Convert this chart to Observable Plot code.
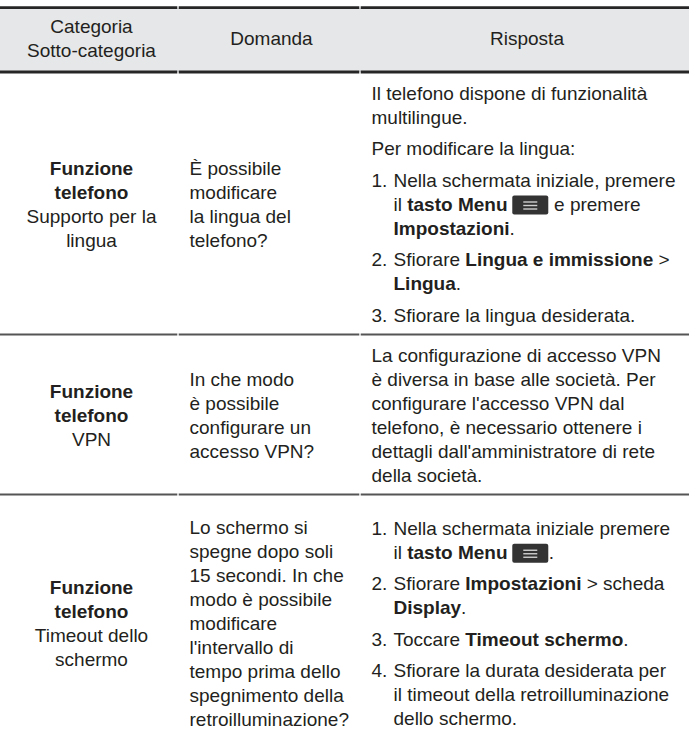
<!DOCTYPE html>
<html><head><meta charset="utf-8">
<script src="https://cdn.jsdelivr.net/npm/d3@7"></script>
<script src="https://cdn.jsdelivr.net/npm/@observablehq/plot@0.6"></script>
<style>html,body{margin:0;padding:0;background:#fff} #chart svg{display:block}</style>
</head><body><div id="chart"></div>
<script>
// ---- content ----
const headers = [["Categoria", "Sotto-categoria"], ["Domanda"], ["Risposta"]];
const categoryLines = [["Funzione", "telefono"], ["Funzione", "telefono"], ["Funzione", "telefono"]];
const subcategoryLines = [["Supporto per la", "lingua"], ["VPN"], ["Timeout dello", "schermo"]];
const questionLines = [
  ["È possibile", "modificare", "la lingua del", "telefono?"],
  ["In che modo", "è possibile", "configurare un", "accesso VPN?"],
  ["Lo schermo si", "spegne dopo soli", "15 secondi. In che", "modo è possibile", "modificare",
   "l'intervallo di", "tempo prima dello", "spegnimento della", "retroilluminazione?"]
];
const answerParagraphs = [
  [["Il telefono dispone di funzionalità", "multilingue."],
   ["Per modificare la lingua:"],
   ["1. Nella schermata iniziale, premere", "il **tasto Menu** [menu] e premere", "**Impostazioni**."],
   ["2. Sfiorare **Lingua e immissione** >", "**Lingua**."],
   ["3. Sfiorare la lingua desiderata."]],
  [["La configurazione di accesso VPN", "è diversa in base alle società. Per", "configurare l'accesso VPN dal",
    "telefono, è necessario ottenere i", "dettagli dall'amministratore di rete", "della società."]],
  [["1. Nella schermata iniziale premere", "il **tasto Menu** [menu]."],
   ["2. Sfiorare **Impostazioni** > scheda", "**Display**."],
   ["3. Toccare **Timeout schermo**."],
   ["4. Sfiorare la durata desiderata per", "il timeout della retroilluminazione", "dello schermo."]]
];

// ---- layout ----
const W = 689, H = 751;
const FONT = '"Liberation Sans", Arial, sans-serif';
const FS = 19;
const cols = [0, 178, 360, 689];
const PADX = [0, 11, 11];
const LINE = 24, GAP = 7.5, PAD = 8;
const headerTop = 8, headerBottom = 72;
const ICON_W = 36, ICON_H = 19;
const TEXT = "#231f20";

const ctx = document.createElement("canvas").getContext("2d");
function measure(s, bold) {
  ctx.font = `${bold ? "bold" : "normal"} ${FS}px ${FONT}`;
  return ctx.measureText(s).width;
}
function parseRuns(line, allBold) {
  return line.split(/(\*\*[^*]+\*\*|\[menu\])/).filter(s => s !== "").map(s =>
    s === "[menu]" ? {icon: true}
    : s.startsWith("**") ? {text: s.slice(2, -2), bold: true}
    : {text: s, bold: !!allBold});
}
function runsWidth(runs) {
  return d3.sum(runs, r => r.icon ? ICON_W : measure(r.text, r.bold));
}
const texts = [], icons = [];
function placeRuns(runs, x, y) {
  let cur = x;
  for (const r of runs) {
    if (r.icon) { icons.push({x1: cur, x2: cur + ICON_W, y}); cur += ICON_W; continue; }
    const lead = r.text.match(/^ */)[0];
    const t = r.text.trim();
    if (t) texts.push({x: cur + measure(lead, r.bold), y, text: t, bold: r.bold});
    cur += measure(r.text, r.bold);
  }
}
function cellHeight(pars) {
  const n = d3.sum(pars, p => p.length);
  return (n - 1) * LINE + (pars.length - 1) * GAP;
}
function layoutCell(pars, col, mid, align) {
  let y = mid - cellHeight(pars) / 2;
  pars.forEach((p) => {
    const m = p[0].match(/^(\d+\.)\s+/);
    const indent = m ? 22 : 0;
    p.forEach((line, li) => {
      const runs = parseRuns(li === 0 && m ? line.slice(m[0].length) : line, false);
      if (align === "middle") {
        const w = runsWidth(runs);
        placeRuns(runs, (cols[col] + cols[col + 1]) / 2 + 2 - w / 2, y);
      } else {
        const x0 = cols[col] + PADX[col];
        if (li === 0 && m) placeRuns([{text: m[1], bold: false}], x0, y);
        placeRuns(runs, x0 + indent, y);
      }
      y += LINE;
    });
    y += GAP;
  });
}

// header
const headerMid = (headerTop + headerBottom) / 2 - 2;
headers.forEach((h, i) => layoutCell([h], i, headerMid, "middle"));

// rows: heights from content
const rowCells = answerParagraphs.map((a, i) => ({
  c1: [categoryLines[i].concat(subcategoryLines[i])],
  c2: [questionLines[i]],
  c3: a
}));
const rowBounds = [];
let rowTop = headerBottom;
rowCells.forEach((r, i) => {
  const h = d3.max([r.c1, r.c2, r.c3], cellHeight) + LINE + 2 * PAD;
  const bottom = i === rowCells.length - 1 ? H : rowTop + h;
  rowBounds.push([rowTop, bottom]);
  rowTop = bottom;
});
rowCells.forEach((r, i) => {
  const mid = (rowBounds[i][0] + rowBounds[i][1]) / 2 + 1;
  const nb = categoryLines[i].length;
  let y = mid - cellHeight(r.c1) / 2;
  r.c1[0].forEach((line, li) => {
    const runs = parseRuns(line, li < nb);
    const w = runsWidth(runs);
    placeRuns(runs, (cols[0] + cols[1]) / 2 + 2 - w / 2, y);
    y += LINE;
  });
  layoutCell(r.c2, 1, mid, "start");
  layoutCell(r.c3, 2, mid, "start");
});

// rules (split at column boundaries)
function segs(y) {
  return d3.range(3).map(c => ({x1: cols[c] + (c ? 0.7 : 0), x2: cols[c + 1] - (c < 2 ? 0.7 : 0), y}));
}
const thickRules = segs(headerTop - 0.8).concat(segs(headerBottom - 0.5));
const thinRules = rowBounds.slice(0, -1).flatMap(b => segs(b[1]));
const iconBars = icons.flatMap(ic => [-3.5, 0, 3.5].map(dy => ({
  x1: (ic.x1 + ic.x2) / 2 - 7, x2: (ic.x1 + ic.x2) / 2 + 7, y: ic.y + 1 + dy
})));

const textOpts = {x: "x", y: "y", text: "text", textAnchor: "start", lineAnchor: "middle",
  fontSize: FS, fontFamily: FONT, fill: TEXT};

const chart = Plot.plot({
  width: W, height: H,
  margin: 0,
  x: {type: "identity", axis: null},
  y: {type: "identity", axis: null},
  style: {background: "#fff"},
  marks: [
    Plot.rect([{x1: 0, x2: W, y1: headerTop, y2: headerBottom}], {x1: "x1", x2: "x2", y1: "y1", y2: "y2", fill: "#e6e7e8"}),
    Plot.ruleY(thickRules, {y: "y", x1: "x1", x2: "x2", stroke: "#262626", strokeWidth: 2.8}),
    Plot.ruleY(thinRules, {y: "y", x1: "x1", x2: "x2", stroke: "#555555", strokeWidth: 1.8}),
    Plot.rect(icons, {x1: "x1", x2: "x2", y1: d => d.y + 1 - ICON_H / 2, y2: d => d.y + 1 + ICON_H / 2, fill: "#333333", rx: 2}),
    Plot.ruleY(iconBars, {y: "y", x1: "x1", x2: "x2", stroke: "#cfcfcf", strokeWidth: 1.4}),
    Plot.text(texts.filter(d => !d.bold), {...textOpts, fontWeight: "normal"}),
    Plot.text(texts.filter(d => d.bold), {...textOpts, fontWeight: "bold"})
  ]
});
document.getElementById("chart").appendChild(chart);
</script>
</body></html>
